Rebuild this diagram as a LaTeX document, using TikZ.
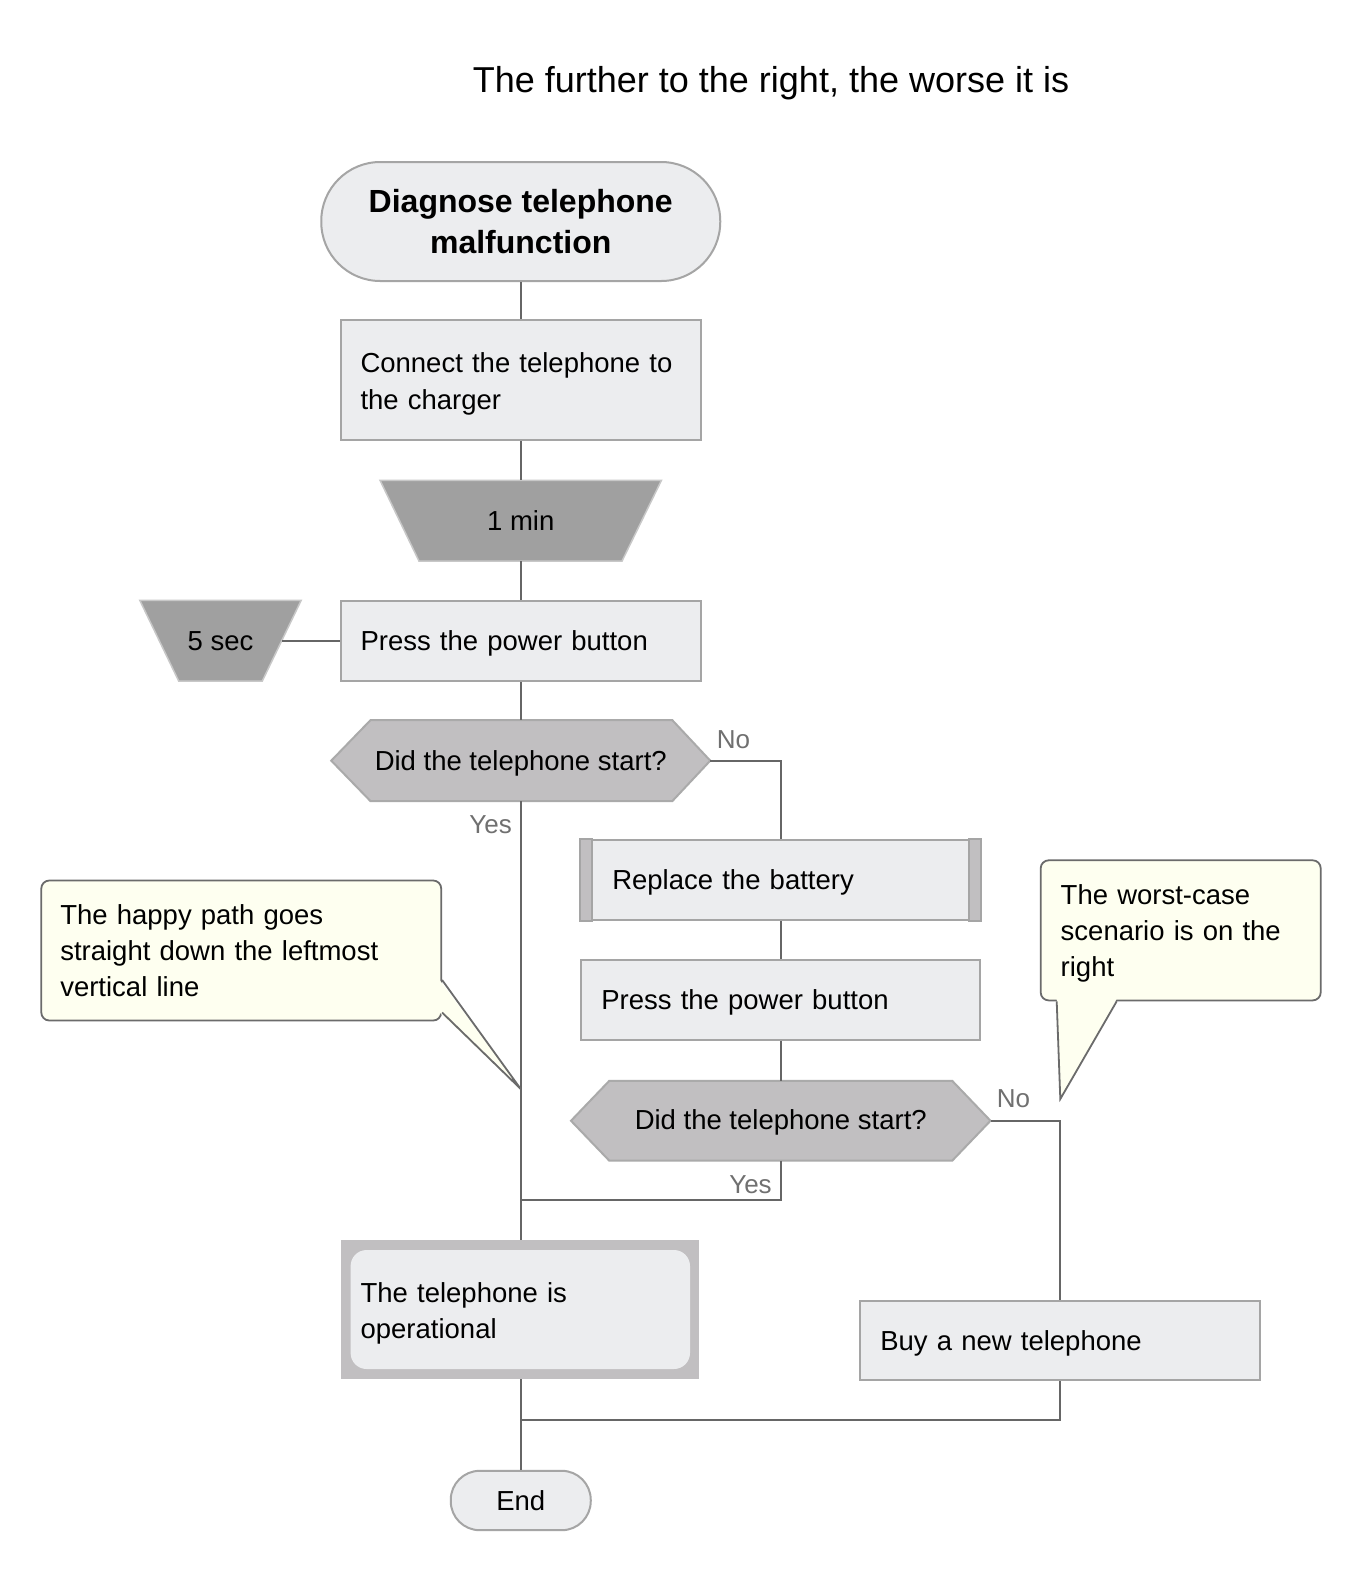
\documentclass[tikz,border=0pt]{standalone}
\usepackage{fontspec}
\setmainfont{Liberation Sans}
\usetikzlibrary{calc,backgrounds}
\definecolor{nodefill}{HTML}{ECEDEF}
\definecolor{nodeedge}{HTML}{A5A5A5}
\definecolor{wirecol}{HTML}{666666}
\definecolor{lblcol}{HTML}{707070}
\definecolor{darkfill}{HTML}{A0A0A0}
\definecolor{trapedge}{HTML}{C8C8C8}
\definecolor{midfill}{HTML}{C1BFC1}
\definecolor{hexedge}{HTML}{AAAAAA}
\definecolor{notefill}{HTML}{FEFFF0}
\definecolor{noteedge}{HTML}{6B6B6B}
\begin{document}
\begin{tikzpicture}[x=1pt,y=-1pt,
  txt/.style={font=\fontsize{27.5}{36.3}\selectfont, text=black},
  procbox/.style={txt, rectangle, draw=nodeedge, fill=nodefill, line width=2pt, align=left, inner xsep=20pt, inner ysep=0pt},
  ghost/.style={txt, rectangle, inner sep=0pt, align=center},
  conn/.style={draw=wirecol, line width=2pt},
  lab/.style={font=\fontsize{26}{30}\selectfont, text=lblcol, inner sep=0pt},
  note/.style={txt, rectangle, rounded corners=8pt, draw=noteedge, fill=notefill, line width=1.8pt, align=left, inner xsep=19pt, inner ysep=0pt},
  hexfill/.style={fill=midfill, draw=hexedge, line width=2pt},
  trapfill/.style={fill=darkfill, draw=trapedge, line width=1.5pt}]
\useasboundingbox (0,0) rectangle (1360,1580);

\node[font=\fontsize{36}{40}\selectfont, inner sep=0pt] (title) at (771,83) {The further to the right, the worse it is};

\node[txt, draw=nodeedge, fill=nodefill, line width=2pt, rounded corners=59pt, minimum width=399pt, minimum height=119pt, align=center, inner sep=0pt, font=\bfseries\fontsize{32}{41.3}\selectfont] (start) at (520.75,221.5) {Diagnose telephone\\malfunction};
\node[procbox, minimum width=360.5pt, minimum height=119.5pt, text width=320.5pt, text depth=34.1pt] (connect) at (520.75,380) {Connect the telephone to\\the charger};
\node[ghost, minimum width=281pt, minimum height=80.5pt, text depth=-2pt] (wait1) at (520.75,520.75) {1 min};
\node[procbox, minimum width=360.5pt, minimum height=80.5pt, text width=320.5pt, text depth=-2.1pt] (press1) at (520.75,640.75) {Press the power button};
\node[ghost, minimum width=161pt, minimum height=80.5pt] (wait2) at (220.5,640.75) {5 sec};
\node[ghost, minimum width=378.6pt, minimum height=80.7pt, text depth=0pt] (dec1) at (520.75,760.65) {Did the telephone start?};
\node[procbox, minimum width=398.9pt, minimum height=79.5pt, text width=358.9pt, text depth=0pt] (replace) at (780.75,880) {\hspace*{11pt}Replace the battery};
\node[procbox, minimum width=398.9pt, minimum height=79.6pt, text width=358.9pt, text depth=0pt] (press2) at (780.75,999.8) {Press the power button};
\node[ghost, minimum width=419.1pt, minimum height=79.5pt, text depth=1.9pt] (dec2) at (780.75,1120.75) {Did the telephone start?};
\node[rectangle, fill=midfill, minimum width=358.5pt, minimum height=139pt, inner sep=0pt] (oper) at (519.75,1309.5) {};
\node[procbox, draw=none, rounded corners=16pt, minimum width=339.4pt, minimum height=119pt, inner xsep=10pt, text width=319.4pt, text depth=34.1pt] (operin) at (520.3,1309.5) {The telephone is\\operational};
\node[procbox, minimum width=400pt, minimum height=79.5pt, text width=360pt, text depth=0pt] (buy) at (1060.3,1340.25) {Buy a new telephone};
\node[txt, draw=nodeedge, fill=nodefill, line width=2pt, rounded corners=29pt, minimum width=140pt, minimum height=59.4pt, inner sep=0pt] (end) at (520.75,1500.5) {End};

\node[note, minimum width=399.9pt, minimum height=140pt, text width=361.9pt] (note1) at (241.25,950.5) {The happy path goes\\straight down the leftmost\\vertical line};
\node[note, minimum width=280pt, minimum height=140.1pt, inner xsep=20pt, text width=240pt, text depth=72.4pt] (note2) at (1180.7,930.35) {The worst-case\\scenario is on the\\right};

\begin{pgfonlayer}{background}
\fill[white] (0,0) rectangle (1360,1580);
\filldraw[trapfill] (wait1.north west) -- (wait1.north east) -- ($(wait1.south east)+(-39.5,0)$) -- ($(wait1.south west)+(39,0)$) -- cycle;
\filldraw[trapfill] (wait2.north west) -- (wait2.north east) -- ($(wait2.south east)+(-39,0)$) -- ($(wait2.south west)+(39,0)$) -- cycle;
\filldraw[hexfill] (dec1.west) -- ($(dec1.north west)+(39.3,0)$) -- ($(dec1.north east)+(-38,0)$) -- (dec1.east) -- ($(dec1.south east)+(-38,0)$) -- ($(dec1.south west)+(39.3,0)$) -- cycle;
\filldraw[hexfill] (dec2.west) -- ($(dec2.north west)+(38.3,0)$) -- ($(dec2.north east)+(-38.3,0)$) -- (dec2.east) -- ($(dec2.south east)+(-38.3,0)$) -- ($(dec2.south west)+(38.3,0)$) -- cycle;
\end{pgfonlayer}

\filldraw[fill=midfill, draw=nodeedge, line width=2pt] (replace.north west) rectangle ($(replace.south west)+(12,0)$);
\filldraw[fill=midfill, draw=nodeedge, line width=2pt] ($(replace.north east)+(-12,0)$) rectangle (replace.south east);

\draw[conn] (start.south) -- (connect.north);
\draw[conn] (connect.south) -- (wait1.north);
\draw[conn] (wait1.south) -- (press1.north);
\draw[conn] ($(wait2.east)+(-19.5,0)$) -- (press1.west);
\draw[conn] (press1.south) -- (dec1.north);
\draw[conn] (dec1.east) -| (replace.north);
\draw[conn] (dec1.south) -- (dec1.south |- oper.north);
\draw[conn] (replace.south) -- (press2.north);
\draw[conn] (press2.south) -- (dec2.north);
\coordinate (join1) at (520.75,1199.8);
\draw[conn] (dec2.south) |- (join1);
\draw[conn] (dec2.east) -| (buy.north);
\draw[conn] (end.north |- oper.south) -- (end.north);
\coordinate (join2) at (520.75,1420.4);
\draw[conn] (buy.south) |- (join2);

\node[lab] (no1) at (733.4,739.4) {No};
\node[lab] (yes1) at (490.6,825) {Yes};
\node[lab] (no2) at (1013.4,1099) {No};
\node[lab] (yes2) at (750.5,1184.7) {Yes};

\coordinate (tip1) at (520.75,1089);
\fill[notefill] ($(note1.east)+(-2.5,29.5)$) -- (tip1) -- ($(note1.east)+(-2.5,62)$) -- cycle;
\draw[noteedge, line width=1.8pt] ($(note1.east)+(0,29.5)$) -- (tip1) -- ($(note1.east)+(0,62)$);
\coordinate (tip2) at (1060.3,1099);
\fill[notefill] ($(note2.south)+(-124,-2.5)$) -- (tip2) -- ($(note2.south)+(-64,-2.5)$) -- cycle;
\draw[noteedge, line width=1.8pt] ($(note2.south)+(-124,0)$) -- (tip2) -- ($(note2.south)+(-64,0)$);
\end{tikzpicture}
\end{document}
